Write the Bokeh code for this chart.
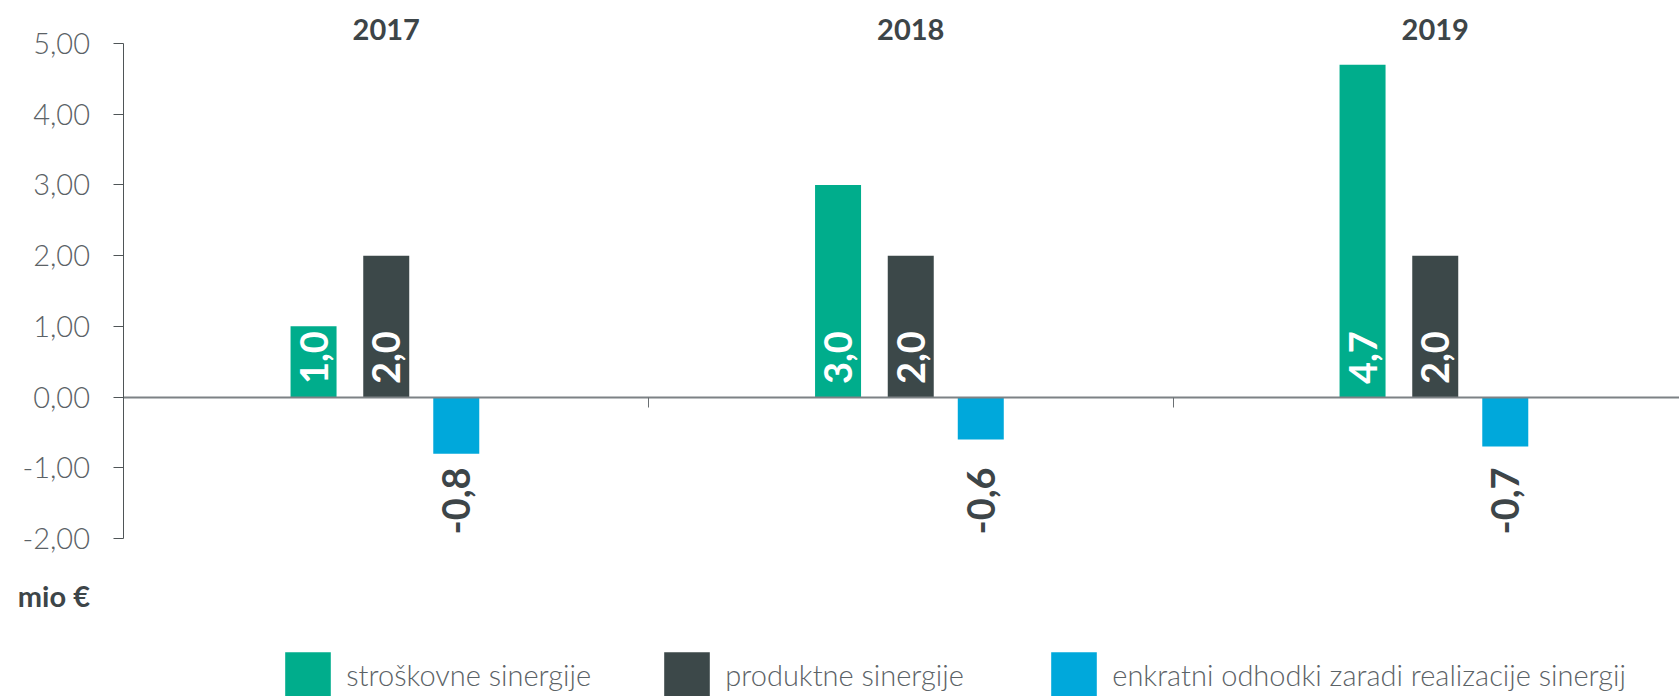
from bokeh.plotting import figure
from bokeh.models import (ColumnDataSource, Range1d, FixedTicker, CustomJSTickFormatter,
                          Label, Legend, LegendItem)
from bokeh.transform import dodge
from bokeh.core.properties import value
from bokeh.embed import file_html
from bokeh.resources import INLINE
from math import pi

# ---------------- data ----------------
years = ["2017", "2018", "2019"]
series_names = ["stroškovne sinergije", "produktne sinergije",
                "enkratni odhodki zaradi realizacije sinergij"]
stroskovne = [1.0, 3.0, 4.7]
produktne = [2.0, 2.0, 2.0]
enkratni = [-0.8, -0.6, -0.7]
y_ticks = [-2, -1, 0, 1, 2, 3, 4, 5]
unit_label = "mio €"

# ---------------- style ----------------
colors = ["#00ad8c", "#3c4849", "#00a8db"]
offsets = [-0.1386, 0.0, 0.1335]
bar_w = 0.0877
Y_MIN, Y_MAX = -2, 5
W, H = 1679, 696
LIGHT = "Lato Light, Lato"
BOLD = "Lato"
GRAY = "#5b6266"
DARK = "#3d4548"


def fmt(v):
    return f"{v:.1f}".replace(".", ",")


series = [stroskovne, produktne, enkratni]
data = dict(xc=[i + 0.5 for i in range(len(years))])
for k, vals in enumerate(series):
    data[f"v{k}"] = vals
    data[f"t{k}"] = [fmt(v) for v in vals]
    data[f"y{k}"] = [0 if v >= 0 else Y_MIN for v in vals]
    data[f"o{k}"] = [-13 if v >= 0 else -4 for v in vals]
    data[f"c{k}"] = ["white" if v >= 0 else DARK for v in vals]
src = ColumnDataSource(data)

# the frame covers the whole canvas; axes are drawn at fixed locations
p = figure(width=W, height=H, output_backend="svg", toolbar_location=None,
           x_range=Range1d(-0.23546, 2.96568), y_range=Range1d(-4.23438, 5.60808),
           min_border_left=0, min_border_right=0, min_border_top=0,
           min_border_bottom=0)
p.outline_line_color = None
p.xgrid.visible = False
p.ygrid.visible = False
p.background_fill_color = "white"
p.border_fill_color = "white"

# x axis drawn at zero with group boundary ticks
xa = p.xaxis[0]
xa.fixed_location = 0
xa.bounds = (0, len(years))
xa.ticker = FixedTicker(ticks=list(range(len(years) + 1)))
xa.formatter = CustomJSTickFormatter(code="return ''")
xa.major_tick_out = 10
xa.major_tick_in = 0
xa.minor_tick_line_color = None
xa.axis_line_width = 2
xa.axis_line_color = "#7d8285"
xa.major_tick_line_color = "#6b7073"
xa.major_tick_line_width = 1

# y axis
ya = p.yaxis[0]
ya.fixed_location = 0
ya.bounds = (Y_MIN, Y_MAX)
ya.ticker = FixedTicker(ticks=y_ticks)
ya.formatter = CustomJSTickFormatter(code="return tick.toFixed(2).replace('.', ',')")
ya.major_tick_out = 10
ya.major_tick_in = 0
ya.minor_tick_line_color = None
ya.axis_line_color = "#4f5557"
ya.major_tick_line_color = "#4f5557"
ya.major_label_standoff = 24
ya.major_label_text_font = LIGHT
ya.major_label_text_font_size = "29px"
ya.major_label_text_color = GRAY

renderers = []
for k in range(3):
    r = p.vbar(x=dodge("xc", offsets[k], range=p.x_range), top=f"v{k}", bottom=0,
               width=bar_w, source=src, fill_color=colors[k], line_color=None)
    renderers.append(r)
    p.text(x=dodge("xc", offsets[k], range=p.x_range), y=f"y{k}", text=f"t{k}",
           source=src, angle=pi / 2, text_align="left", text_baseline="middle",
           y_offset=f"o{k}", text_color=f"c{k}", text_font=value(BOLD),
           text_font_style="bold", text_font_size="38px")

# year labels above the plot
for i, yr in enumerate(years):
    p.add_layout(Label(x=i + 0.5, y=Y_MAX, y_offset=14, text=yr, text_align="center",
                       text_baseline="middle", text_font=BOLD, text_font_style="bold",
                       text_font_size="29px", text_color=DARK))

# unit label
p.add_layout(Label(x=0, y=Y_MIN, x_offset=-34, y_offset=-57, text=unit_label,
                   text_align="right", text_baseline="middle", text_font=BOLD,
                   text_font_style="bold", text_font_size="29px", text_color=DARK))

# legends (one item each, placed below the plot area)
legend_x = [279.3, 658.3, 1045.3]
for k, name in enumerate(series_names):
    leg = Legend(items=[LegendItem(label=name, renderers=[renderers[k]])],
                 location=(legend_x[k], -7.3), orientation="horizontal",
                 glyph_width=57, glyph_height=57, label_standoff=10,
                 padding=0, margin=0, border_line_color=None,
                 background_fill_alpha=0, label_text_font=LIGHT,
                 label_text_font_size="29px", label_text_color=GRAY)
    p.add_layout(leg)

open("out.html", "w").write(file_html(p, INLINE))
